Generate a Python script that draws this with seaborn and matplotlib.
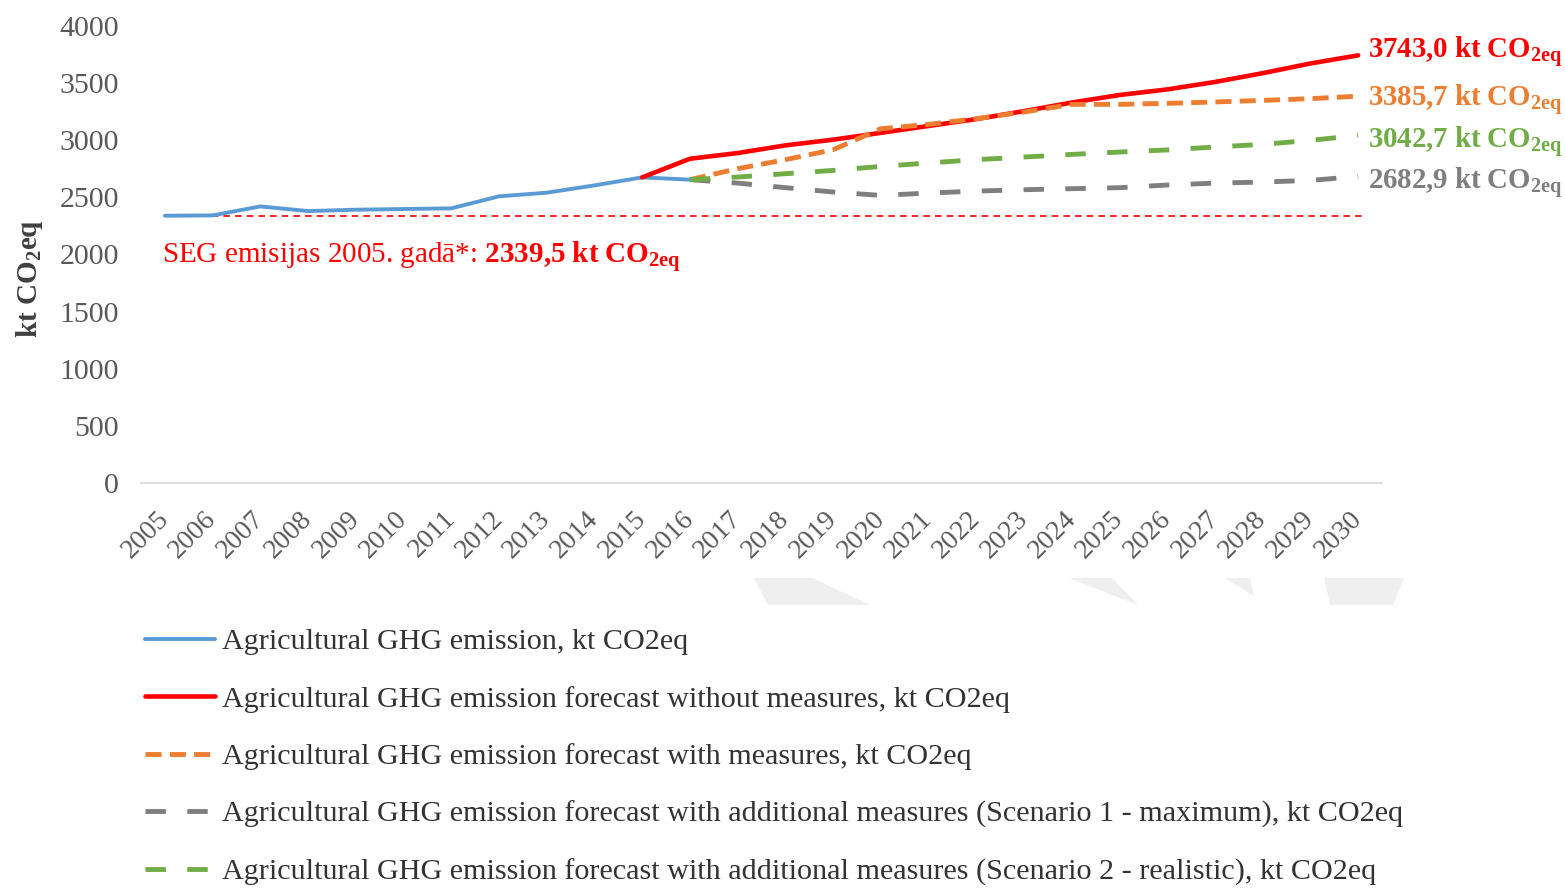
import matplotlib
matplotlib.use("Agg")
import matplotlib.pyplot as plt
from matplotlib.patches import Polygon
import seaborn as sns

# --- data -----------------------------------------------------------------
years_hist = list(range(2005, 2017))
ghg_hist = [2339.5, 2342, 2421, 2380, 2392, 2398, 2404, 2509, 2541, 2605, 2675, 2655]

years_without = list(range(2015, 2031))
ghg_without_measures = [2675, 2838, 2888, 2955, 3005, 3065, 3125, 3185, 3255, 3330,
                        3396, 3445, 3510, 3587, 3672, 3743.0]

years_forecast = list(range(2016, 2031))
ghg_with_measures = [2655, 2751, 2830, 2917, 3101, 3139, 3189, 3247, 3314, 3314,
                     3323, 3335, 3349, 3364, 3385.7]
ghg_scenario_max = [2655, 2625, 2585, 2547, 2517, 2538, 2555, 2567, 2576, 2585,
                    2608, 2625, 2634, 2649, 2682.9]
ghg_scenario_real = [2655, 2678, 2707, 2736, 2771, 2801, 2830, 2853, 2876, 2897,
                     2915, 2941, 2964, 2999, 3042.7]

baseline_2005 = 2339.5
x_years = list(range(2005, 2031))
y_ticks = list(range(0, 4001, 500))

legend_labels = [
    "Agricultural GHG emission, kt CO2eq",
    "Agricultural GHG emission forecast without measures, kt CO2eq",
    "Agricultural GHG emission forecast with measures, kt CO2eq",
    "Agricultural GHG emission forecast with additional measures (Scenario 1 - maximum), kt CO2eq",
    "Agricultural GHG emission forecast with additional measures (Scenario 2 - realistic), kt CO2eq",
]

# --- style ----------------------------------------------------------------
BLUE, RED, ORANGE, GREY, GREEN = "#5B9BD5", "#FF0000", "#ED7D31", "#7F7F7F", "#70AD47"

sns.set_theme(style="white")
plt.rcParams["font.family"] = ["Liberation Serif", "DejaVu Serif"]
plt.rcParams["mathtext.fontset"] = "custom"
plt.rcParams["mathtext.rm"] = "Liberation Serif"
plt.rcParams["mathtext.it"] = "Liberation Serif:italic"
plt.rcParams["mathtext.bf"] = "Liberation Serif:bold"

fig = plt.figure(figsize=(15.65, 8.91), dpi=100)

# faint background shapes below the axis labels
for pts in [
    [(754, 578), (812, 578), (870, 605), (768, 605)],
    [(1069, 578), (1112, 578), (1138, 605)],
    [(1225, 578), (1250, 578), (1254, 596)],
    [(1324, 578), (1404, 578), (1393, 605), (1330, 605)],
]:
    fig.patches.append(Polygon([(x / 1565, 1 - y / 891) for x, y in pts], closed=True,
                               transform=fig.transFigure, facecolor="#efefef",
                               edgecolor="none", zorder=0))

ax = fig.add_axes([141 / 1565, 1 - 483 / 891, 1241 / 1565, 457 / 891])
ax.set_facecolor("none")

lw_solid = 3.3
lw_dash = 3.5
series = [
    (years_hist, ghg_hist, BLUE, lw_solid * 0.85, "-", legend_labels[0]),
    (years_without, ghg_without_measures, RED, lw_solid, "-", legend_labels[1]),
    (years_forecast, ghg_scenario_max, GREY, lw_dash, (0, (4.2, 4.4)), legend_labels[3]),
    (years_forecast, ghg_with_measures, ORANGE, lw_dash, (0, (3.3, 1.7)), legend_labels[2]),
    (years_forecast, ghg_scenario_real, GREEN, lw_dash, (0, (4.2, 4.4)), legend_labels[4]),
]
handles = {}
for xs, ys, col, lw, ls, lab in series:
    sns.lineplot(x=xs, y=ys, ax=ax, color=col, linewidth=lw, linestyle=ls,
                 legend=False, label=lab)
    handles[lab] = ax.get_lines()[-1]

# 2005 reference level
ax.hlines(baseline_2005, x_years[0], x_years[-1] + 0.15, colors=RED, linewidth=1.2,
          linestyles=(0, (4, 3)), zorder=1)


def fmt(v):
    return f"{v:.1f}".replace(".", "{,}")


ax.annotate(rf"SEG emisijas 2005. gadā*: $\mathbf{{{fmt(baseline_2005)}\ kt\ CO_{{2eq}}}}$",
            xy=(x_years[0], baseline_2005), xytext=(-2, -30), textcoords="offset points",
            color=RED, fontsize=21, ha="left", va="center")

# end-of-line value labels
for ys, col, dy in [(ghg_without_measures, RED, 2), (ghg_with_measures, ORANGE, -3),
                    (ghg_scenario_real, GREEN, -5), (ghg_scenario_max, GREY, -5)]:
    ax.annotate(rf"$\mathbf{{{fmt(ys[-1])}\ kt\ CO_{{2eq}}}}$",
                xy=(x_years[-1], ys[-1]), xytext=(7, dy), textcoords="offset points",
                color=col, fontsize=20.8, ha="left", va="center", annotation_clip=False)

# axes
ax.set_xlim(x_years[0] - 0.5, x_years[-1] + 0.5)
ax.set_ylim(0, 4000)
ax.set_xticks(x_years)
ax.set_xticklabels([str(y) for y in x_years])
ax.set_yticks(y_ticks)
ax.set_yticklabels([str(v) for v in y_ticks])
ax.tick_params(axis="both", length=0, labelcolor="#595959")
ax.tick_params(axis="y", pad=16, labelsize=21.5)
ax.tick_params(axis="x", pad=23, labelsize=20)
for lab in ax.get_xticklabels():
    lab.set_rotation(45)
    lab.set_ha("right")
    lab.set_va("center")
    lab.set_rotation_mode("anchor")
for side in ["left", "top", "right"]:
    ax.spines[side].set_visible(False)
ax.spines["bottom"].set_color("#d9d9d9")
ax.spines["bottom"].set_linewidth(1.2)
ax.grid(False)

ax.set_xlabel("")
ax.set_ylabel(r"kt CO$_\mathbf{2}$eq", fontsize=21, fontweight="bold", color="#404040")
ax.yaxis.set_label_coords(-0.077, 0.448)

fig.legend([handles[l] for l in legend_labels], legend_labels, loc="upper left",
           bbox_to_anchor=(145 / 1565, 1 - 628 / 891), frameon=False, fontsize=21.7,
           handlelength=2.33, handletextpad=0.22, labelspacing=1.01,
           borderaxespad=0, borderpad=0, labelcolor="#333333")

fig.savefig("out.png", dpi=100)
